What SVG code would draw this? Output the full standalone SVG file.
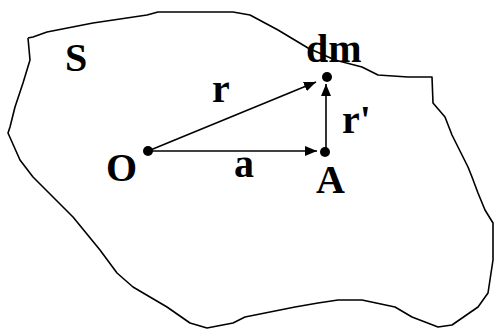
<svg xmlns="http://www.w3.org/2000/svg" width="495" height="329" viewBox="0 0 495 329">
<style>
.outline{fill:none;stroke:#000;stroke-width:1.6;stroke-linejoin:round}
.vec{stroke:#000;stroke-width:1.6;fill:none}
.dot{fill:#000}
.lbl{font-family:"Liberation Serif","Times New Roman",serif;font-weight:bold;font-size:40px;fill:#000}
</style>
<defs>
<marker id="ah" viewBox="0 0 12 10" refX="12" refY="5" markerWidth="12" markerHeight="10" markerUnits="userSpaceOnUse" orient="auto">
<path d="M0,0 L12,5 L0,10 Z" fill="#000"/>
</marker>
</defs>
<g id="body-S">
<polyline class="outline" points="28,38 33,37 47,32 93,23 147,15 158,12 233,12 250,15 278,30 308,48 335,60 362,67 378,75 408,77 432,77 433,103 445,117 452,135 468,167 472,177 478,193 485,210 493,223 493,260 488,293 478,307 452,325 438,327 412,317 395,307 362,300 338,300 318,303 295,307 245,317 233,323 207,328 190,323 167,307 133,287 117,273 100,250 73,217 33,177 20,160 8,133 10,127 15,107 23,83 30,60 28,38"/>
<text class="lbl" x="65" y="71">S</text>
</g>
<g id="connectors">
<line class="vec" x1="148" y1="151" x2="317" y2="151" marker-end="url(#ah)"/>
<line class="vec" x1="148" y1="151" x2="316" y2="82" marker-end="url(#ah)"/>
<line class="vec" x1="326" y1="152" x2="326" y2="84" marker-end="url(#ah)"/>
</g>
<g id="node-O">
<circle class="dot" cx="148" cy="151" r="5"/>
<text class="lbl" x="106" y="181">O</text>
</g>
<g id="node-A">
<circle class="dot" cx="325" cy="152" r="5"/>
<text class="lbl" x="316" y="193">A</text>
</g>
<g id="node-dm">
<circle class="dot" cx="327" cy="77" r="5"/>
<text class="lbl" x="306" y="62">dm</text>
</g>
<text class="lbl" x="212" y="102">r</text>
<text class="lbl" x="234" y="177">a</text>
<text class="lbl" x="342" y="133">r'</text>
</svg>
